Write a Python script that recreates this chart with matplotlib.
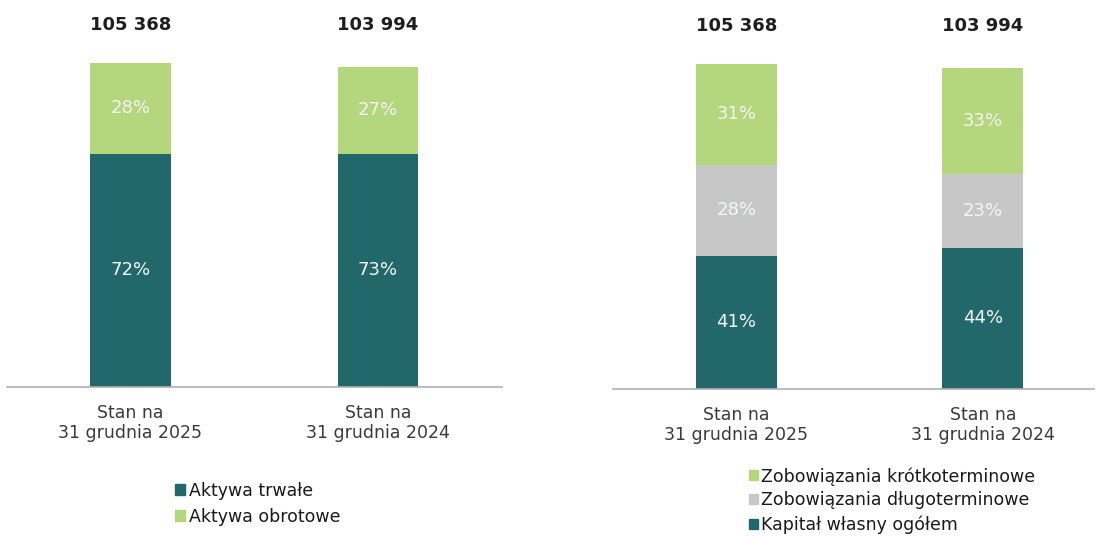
import matplotlib
matplotlib.use("Agg")
import matplotlib.pyplot as plt
from matplotlib.patches import Patch

plt.rcParams['font.family'] = ['DejaVu Sans']

categories = ["Stan na\n31 grudnia 2025", "Stan na\n31 grudnia 2024"]
totals = [105368, 103994]
total_labels = ["105 368", "103 994"]

# Left chart: assets structure (%)
assets_fixed = [72, 73]      # Aktywa trwałe
assets_current = [28, 27]    # Aktywa obrotowe

# Right chart: liabilities & equity structure (%)
equity = [41, 44]            # Kapitał własny ogółem
liab_long = [28, 23]         # Zobowiązania długoterminowe
liab_short = [31, 33]        # Zobowiązania krótkoterminowe

TEAL = "#22686b"
GREEN = "#b4d67d"
GRAY = "#c7c7c7"
W, H = 1096, 537

fig = plt.figure(figsize=(W / 100, H / 100), dpi=100)

def make_ax(left_px, right_px, base_px, top_px):
    return fig.add_axes([left_px / W, (H - base_px) / H,
                         (right_px - left_px) / W, (base_px - top_px) / H])

def style(ax, xlim):
    ax.set_xlim(*xlim)
    ax.set_ylim(0, totals[0])
    for s in ("left", "right", "top"):
        ax.spines[s].set_visible(False)
    ax.spines["bottom"].set_color("#b0b0b0")
    ax.spines["bottom"].set_linewidth(1.2)
    ax.set_yticks([])
    ax.set_xticks(range(len(categories)))
    ax.set_xticklabels(categories, fontsize=12.5, color="#3a3a3a", linespacing=1.15)
    ax.tick_params(axis="x", length=0, pad=12)
    for i, lab in enumerate(total_labels):
        ax.text(i, 1.117, lab, transform=ax.get_xaxis_transform(),
                ha="center", va="center", fontsize=13, fontweight="bold", color="#1e1e1e")

def stacked(ax, series, colors, width):
    bottoms = [0.0] * len(categories)
    for vals, col in zip(series, colors):
        heights = [t * v / 100 for t, v in zip(totals, vals)]
        ax.bar(range(len(categories)), heights, width=width, bottom=bottoms,
               color=col, edgecolor="none")
        for i, (h, b, v) in enumerate(zip(heights, bottoms, vals)):
            ax.text(i, b + h / 2, f"{v}%", ha="center", va="center",
                    fontsize=13, color="#f4f8f4")
        bottoms = [b + h for b, h in zip(bottoms, heights)]

# Left chart
ax1 = make_ax(6.75, 501.75, 387, 63)
stacked(ax1, [assets_fixed, assets_current], [TEAL, GREEN], 0.327)
style(ax1, (-0.5, 1.5))
fig.legend(handles=[Patch(color=TEAL, label="Aktywa trwałe"),
                    Patch(color=GREEN, label="Aktywa obrotowe")],
           loc="upper left", bbox_to_anchor=(175 / W, (H - 482) / H),
           frameon=False, fontsize=12.5, handlelength=0.6, handleheight=0.6,
           handletextpad=0.2, labelspacing=0.45, borderpad=0, borderaxespad=0,
           labelcolor="#1a1a1a")

# Right chart
ax2 = make_ax(613, 1093.7, 389, 64)
stacked(ax2, [equity, liab_long, liab_short], [TEAL, GRAY, GREEN], 0.33)
style(ax2, (-0.5, 1.45))
fig.legend(handles=[Patch(color=GREEN, label="Zobowiązania krótkoterminowe"),
                    Patch(color=GRAY, label="Zobowiązania długoterminowe"),
                    Patch(color=TEAL, label="Kapitał własny ogółem")],
           loc="upper left", bbox_to_anchor=(749 / W, (H - 467) / H),
           frameon=False, fontsize=12.5, handlelength=0.5, handleheight=0.5,
           handletextpad=0.2, labelspacing=0.34, borderpad=0, borderaxespad=0,
           labelcolor="#1a1a1a")

fig.savefig("out.png", dpi=100, facecolor="white")
